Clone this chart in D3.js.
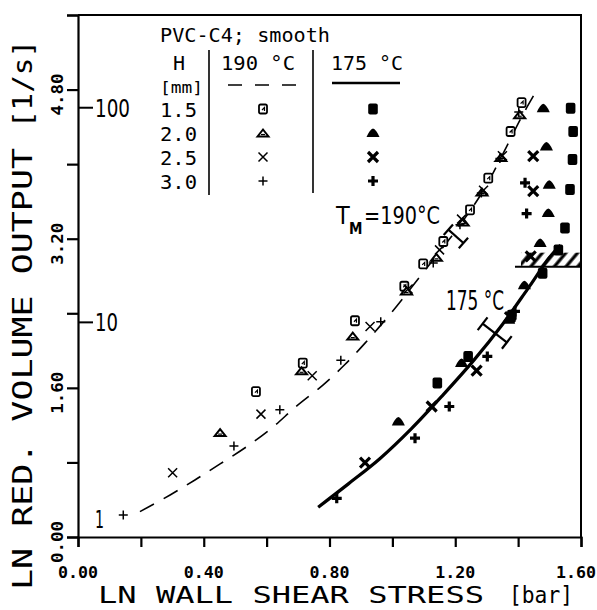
<!DOCTYPE html>
<html><head><meta charset="utf-8">
<script src="https://cdn.jsdelivr.net/npm/d3@7"></script>
<style>body{margin:0;background:#fff} svg{display:block} text{white-space:pre}</style>
</head><body>
<svg id="c" width="597" height="610"></svg>
<script>
// ---------- data ----------
const xTickValues = [0, 0.2, 0.4, 0.6, 0.8, 1.0, 1.2, 1.4, 1.6];
const xLabelValues = [0, 0.4, 0.8, 1.2, 1.6];
const xTickLabels = ["0.00", "0.40", "0.80", "1.20", "1.60"];
const yTickValues = [0, 0.8, 1.6, 2.4, 3.2, 4.0, 4.8, 5.6];
const yLabelValues = [0, 1.6, 3.2, 4.8];
const yTickLabels = ["0.00", "1.60", "3.20", "4.80"];
const logLabelValues = [0, Math.log(10), Math.log(100)];
const logLabels = ["1", "10", "100"];

// 190 °C (open symbols), H in mm
const s190_h15 = [[0.566,1.56],[0.715,1.866],[0.881,2.32],[1.038,2.69],[1.098,2.93],[1.162,3.17],[1.247,3.51],[1.305,3.85],[1.376,4.35],[1.411,4.66]];
const s190_h20 = [[0.452,1.12],[0.711,1.783],[0.874,2.155],[1.045,2.64],[1.14,3.00],[1.225,3.38],[1.285,3.70],[1.345,4.07],[1.405,4.53]];
const s190_h25 = [[0.301,0.69],[0.582,1.318],[0.745,1.729],[0.929,2.259],[1.05,2.66],[1.15,3.08],[1.22,3.41],[1.29,3.72],[1.35,4.09]];
const s190_h30 = [[0.144,0.236],[0.496,0.977],[0.642,1.364],[0.836,1.895],[0.963,2.31],[1.13,2.94],[1.215,3.35],[1.283,3.69],[1.342,4.06],[1.402,4.56]];
// 175 °C (filled symbols)
const s175_h15 = [[1.143,1.651],[1.241,1.937],[1.38,2.38],[1.478,2.83],[1.528,3.08],[1.549,3.316],[1.565,3.727],[1.573,4.05],[1.575,4.35],[1.567,4.60]];
const s175_h20 = [[1.019,1.238],[1.22,1.866],[1.37,2.33],[1.42,2.70],[1.47,3.155],[1.496,3.477],[1.499,3.78],[1.49,4.19],[1.48,4.60]];
const s175_h25 = [[0.913,0.798],[1.125,1.40],[1.268,1.786],[1.374,2.36],[1.44,3.01],[1.448,3.71],[1.448,4.085]];
const s175_h30 = [[0.823,0.415],[1.072,1.06],[1.181,1.40],[1.302,1.937],[1.39,2.42],[1.427,3.47],[1.422,3.80]];

// fitted curves
const curve190 = [[0.197,0.272],[0.293,0.451],[0.372,0.612],[0.452,0.784],[0.537,0.970],[0.616,1.168],[0.696,1.407],[0.780,1.633],[0.849,1.85],[0.913,2.08],[1.00,2.42],[1.08,2.76],[1.15,3.06],[1.22,3.37],[1.29,3.72],[1.35,4.10],[1.41,4.50],[1.46,4.80]];
const curve175 = [[0.764,0.32],[0.86,0.57],[0.96,0.84],[1.06,1.16],[1.16,1.52],[1.26,1.90],[1.35,2.28],[1.43,2.66],[1.50,3.0],[1.535,3.13]];
// scatter bars (end points)
const bar190 = [[1.178,3.297],[1.226,3.154]];
const bar175 = [[1.287,2.288],[1.364,2.087]];
// hatched limit line
const hatchY = 2.90, hatchX = [1.39, 1.6];

const legendHeights = ["1.5", "2.0", "2.5", "3.0"];
const legendTemps = ["190 °C", "175 °C"];

// ---------- scales ----------
const svg = d3.select("#c");
svg.append("rect").attr("width",597).attr("height",610).attr("fill","#fff");
const x = d3.scaleLinear().domain([0,1.6]).range([78,581]);
const y = d3.scaleLinear().domain([0,5.6]).range([537,15]);
const mono = "'DejaVu Sans Mono', 'Liberation Mono', monospace";
const cond = "'DejaVu Sans Condensed', 'DejaVu Sans', sans-serif";

// frame
svg.append("path").attr("d",`M${x(0)},${y(5.6)}H${x(1.6)}V${y(0)}`).attr("fill","none").attr("stroke","#000").attr("stroke-width",2);

// axes
const ax = svg.append("g").attr("transform",`translate(0,${y(0)})`)
  .call(d3.axisBottom(x).tickValues(xTickValues).tickSize(10).tickFormat(""));
const ay = svg.append("g").attr("transform",`translate(${x(0)},0)`)
  .call(d3.axisLeft(y).tickValues(yTickValues).tickSize(11).tickFormat(""));
[ax, ay].forEach(a => { a.select(".domain").attr("stroke-width",2.2); a.selectAll(".tick line").attr("stroke-width",2.2); });

// x tick labels
svg.append("g").selectAll("text").data(xLabelValues).join("text")
  .attr("x", d => Math.min(x(d), 576)).attr("y", 578).attr("text-anchor","middle")
  .attr("font-family", mono).attr("font-weight","bold").attr("font-size",15)
  .attr("textLength",40).attr("lengthAdjust","spacingAndGlyphs")
  .text((d,i) => xTickLabels[i]);
// y tick labels (rotated)
svg.append("g").selectAll("text").data(yLabelValues).join("text")
  .attr("transform", d => `translate(63,${y(d)+5}) rotate(-90)`).attr("text-anchor","middle")
  .attr("font-family", mono).attr("font-weight","bold").attr("font-size",16)
  .attr("textLength",42).attr("lengthAdjust","spacingAndGlyphs")
  .text((d,i) => yTickLabels[i]);

// axis titles
svg.append("text").attr("x",98).attr("y",603).attr("font-family",mono).attr("font-size",23)
  .attr("textLength",386).attr("lengthAdjust","spacingAndGlyphs").text("LN WALL SHEAR STRESS");
svg.append("text").attr("x",509).attr("y",603).attr("font-family",mono).attr("font-size",23)
  .attr("textLength",64).attr("lengthAdjust","spacingAndGlyphs").text("[bar]");
svg.append("text").attr("transform","translate(32,590) rotate(-90)").attr("font-family",mono).attr("font-size",27)
  .attr("textLength",442).attr("lengthAdjust","spacingAndGlyphs").text("LN RED. VOLUME OUTPUT");
svg.append("text").attr("transform","translate(32,128) rotate(-90)").attr("font-family",mono).attr("font-size",27)
  .attr("textLength",88).attr("lengthAdjust","spacingAndGlyphs").text("[1/s]");

// log labels inside
const lg = svg.append("g");
lg.selectAll("line").data(logLabelValues.slice(1)).join("line")
  .attr("x1",x(0)).attr("x2",x(0)+15).attr("y1",d=>y(d)).attr("y2",d=>y(d)).attr("stroke","#000").attr("stroke-width",2);
lg.selectAll("text").data(logLabelValues).join("text")
  .attr("x", 95).attr("y", (d,i) => i===0 ? y(d)-9 : y(d)+9)
  .attr("font-family", cond).attr("font-size",24)
  .attr("textLength",(d,i)=> [9,23,35][i]).attr("lengthAdjust","spacingAndGlyphs")
  .text((d,i) => logLabels[i]);

// hatch
const defs = svg.append("defs");
const pat = defs.append("pattern").attr("id","hatch").attr("patternUnits","userSpaceOnUse")
  .attr("width",9).attr("height",9).attr("patternTransform","rotate(40)");
pat.append("line").attr("x1",2).attr("y1",0).attr("x2",2).attr("y2",9).attr("stroke","#000").attr("stroke-width",3.2);
svg.append("rect").attr("x",x(hatchX[0])+6).attr("y",y(hatchY)-14).attr("width",x(hatchX[1])-x(hatchX[0])-6).attr("height",14).attr("fill","url(#hatch)");
svg.append("line").attr("x1",x(hatchX[0])).attr("x2",x(hatchX[1])).attr("y1",y(hatchY)).attr("y2",y(hatchY)).attr("stroke","#000").attr("stroke-width",2);

// curves
const line = d3.line().x(d=>x(d[0])).y(d=>y(d[1])).curve(d3.curveCatmullRom.alpha(0.5));
svg.append("path").datum(curve190).attr("d",line).attr("fill","none").attr("stroke","#000").attr("stroke-width",1.6).attr("stroke-dasharray","16,11");
svg.append("path").datum(curve175).attr("d",line).attr("fill","none").attr("stroke","#000").attr("stroke-width",3.2);

// scatter bars
function drawBar(b, cap) {
  const p1 = [x(b[0][0]), y(b[0][1])], p2 = [x(b[1][0]), y(b[1][1])];
  const dx = p2[0]-p1[0], dy = p2[1]-p1[1], L = Math.hypot(dx,dy);
  const nx = -dy/L*cap/2, ny = dx/L*cap/2;
  const g = svg.append("g").attr("stroke","#000").attr("stroke-width",2.2);
  g.append("line").attr("x1",p1[0]).attr("y1",p1[1]).attr("x2",p2[0]).attr("y2",p2[1]);
  [p1,p2].forEach(p => g.append("line").attr("x1",p[0]-nx).attr("y1",p[1]-ny).attr("x2",p[0]+nx).attr("y2",p[1]+ny));
}
drawBar(bar190, 14);
drawBar(bar175, 16);

// symbols
const sym = {
  sqO: g => { g.append("rect").attr("x",-4).attr("y",-4.5).attr("width",8).attr("height",9).attr("rx",1.5).attr("fill","#fff").attr("stroke","#000").attr("stroke-width",1.8);
              g.append("path").attr("d","M-1,1 L1.5,-1.5 L1.5,2").attr("fill","none").attr("stroke","#000").attr("stroke-width",1.2); },
  triO: g => { g.append("path").attr("d","M-5.5,3.5 L0,-3.5 L5.5,3.5 Z").attr("fill","#fff").attr("stroke","#000").attr("stroke-width",2);
               g.append("path").attr("d","M-2,1.5 H2").attr("stroke","#000").attr("stroke-width",1.2); },
  xO: g => g.append("path").attr("d","M-4.5,-4.5 L4.5,4.5 M-4.5,4.5 L4.5,-4.5").attr("stroke","#000").attr("stroke-width",1.5),
  pO: g => g.append("path").attr("d","M-4.5,0 H4.5 M0,-4.5 V4.5").attr("stroke","#000").attr("stroke-width",1.5),
  sqF: g => g.append("rect").attr("x",-4.8).attr("y",-5.5).attr("width",9.6).attr("height",11).attr("rx",2).attr("fill","#000"),
  triF: g => g.append("path").attr("d","M-6.5,4 Q-3,-4 0,-4.5 Q3,-4 6.5,4 Z").attr("fill","#000"),
  xF: g => g.append("path").attr("d","M-5,-5 L5,5 M-5,5 L5,-5").attr("stroke","#000").attr("stroke-width",3.2),
  pF: g => g.append("path").attr("d","M-5,0 H5 M0,-5 V5").attr("stroke","#000").attr("stroke-width",3.2)
};
function drawSeries(data, kind) {
  svg.append("g").selectAll("g").data(data).join("g")
    .attr("transform", d => `translate(${x(d[0])},${y(d[1])})`)
    .each(function(){ sym[kind](d3.select(this)); });
}
drawSeries(s190_h15,"sqO"); drawSeries(s190_h20,"triO"); drawSeries(s190_h25,"xO"); drawSeries(s190_h30,"pO");
drawSeries(s175_h15,"sqF"); drawSeries(s175_h20,"triF"); drawSeries(s175_h25,"xF"); drawSeries(s175_h30,"pF");

// in-plot labels
svg.append("text").attr("x",336).attr("y",224).attr("font-family",cond).attr("font-size",25).text("T");
svg.append("text").attr("x",349).attr("y",234).attr("font-family",cond).attr("font-size",15).attr("font-weight","bold").text("M");
svg.append("text").attr("x",364).attr("y",224).attr("font-family",cond).attr("font-size",25)
  .attr("textLength",76).attr("lengthAdjust","spacingAndGlyphs").text("=190°C");
svg.append("text").attr("x",446).attr("y",310).attr("font-family",cond).attr("font-size",26)
  .attr("textLength",58).attr("lengthAdjust","spacingAndGlyphs").text("175 °C");

// legend
const leg = svg.append("g").attr("font-family",mono).attr("font-size",20);
leg.append("text").attr("x",160).attr("y",42).attr("textLength",170).attr("lengthAdjust","spacingAndGlyphs").text("PVC-C4; smooth");
leg.append("text").attr("x",173).attr("y",70).text("H");
leg.append("text").attr("x",221).attr("y",70).attr("textLength",74).attr("lengthAdjust","spacingAndGlyphs").text(legendTemps[0]);
leg.append("text").attr("x",331).attr("y",70).attr("textLength",72).attr("lengthAdjust","spacingAndGlyphs").text(legendTemps[1]);
leg.append("text").attr("x",160).attr("y",93).attr("font-size",15).attr("textLength",43).attr("lengthAdjust","spacingAndGlyphs").text("[mm]");
leg.append("line").attr("x1",209).attr("x2",209).attr("y1",50).attr("y2",195).attr("stroke","#000").attr("stroke-width",1.6);
leg.append("line").attr("x1",313).attr("x2",313).attr("y1",50).attr("y2",193).attr("stroke","#000").attr("stroke-width",1.6);
leg.append("line").attr("x1",228).attr("x2",297).attr("y1",85).attr("y2",85).attr("stroke","#000").attr("stroke-width",1.6).attr("stroke-dasharray","14,13");
leg.append("line").attr("x1",332).attr("x2",400).attr("y1",83).attr("y2",83).attr("stroke","#000").attr("stroke-width",2.4);
const rowsY = [109, 133, 157, 181];
leg.selectAll("text.h").data(legendHeights).join("text").attr("class","h")
  .attr("x",160).attr("y",(d,i)=>rowsY[i]+8).attr("textLength",37).attr("lengthAdjust","spacingAndGlyphs").text(d=>d);
const kinds190 = ["sqO","triO","xO","pO"], kinds175 = ["sqF","triF","xF","pF"];
rowsY.forEach((ry,i) => {
  sym[kinds190[i]](leg.append("g").attr("transform",`translate(263,${ry})`));
  sym[kinds175[i]](leg.append("g").attr("transform",`translate(373,${ry})`));
});
</script>
</body></html>
